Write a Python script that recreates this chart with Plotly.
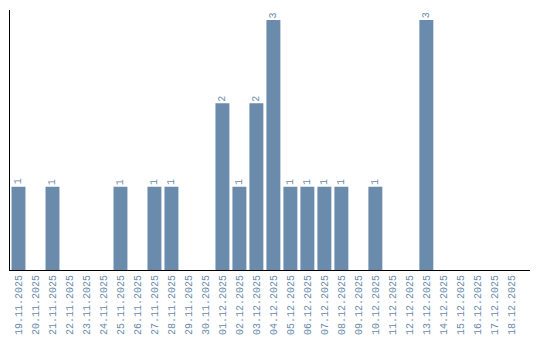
import plotly.graph_objects as go

dates = ["19.11.2025", "20.11.2025", "21.11.2025", "22.11.2025", "23.11.2025", "24.11.2025",
         "25.11.2025", "26.11.2025", "27.11.2025", "28.11.2025", "29.11.2025", "30.11.2025",
         "01.12.2025", "02.12.2025", "03.12.2025", "04.12.2025", "05.12.2025", "06.12.2025",
         "07.12.2025", "08.12.2025", "09.12.2025", "10.12.2025", "11.12.2025", "12.12.2025",
         "13.12.2025", "14.12.2025", "15.12.2025", "16.12.2025", "17.12.2025", "18.12.2025"]
counts = [1, 0, 1, 0, 0, 0, 1, 0, 1, 1, 0, 0, 2, 1, 2, 3, 1, 1, 1, 1, 0, 1, 0, 0, 3, 0, 0, 0, 0, 0]

color = "#6a8bab"
font = "Liberation Mono"

fig = go.Figure(go.Bar(
    x=dates, y=counts,
    marker=dict(color=color, line=dict(width=0)),
))

for d, v in zip(dates, counts):
    if v > 0:
        fig.add_annotation(x=d, y=v, text=str(v), textangle=-90, showarrow=False,
                           xanchor="center", yanchor="bottom", yshift=0,
                           font=dict(family=font, size=10, color=color))

fig.update_layout(
    width=540, height=340, margin=dict(l=10, r=10, t=10, b=70, autoexpand=False),
    paper_bgcolor="white", plot_bgcolor="white", showlegend=False,
    bargap=0.18,
    xaxis=dict(type="category", range=[-0.5, 30.1], showline=True, linecolor="black", linewidth=1,
               ticks="", tickangle=-90, showgrid=False, automargin=False,
               tickfont=dict(family=font, size=10, color=color)),
    yaxis=dict(range=[0, 3.12], showline=True, linecolor="black", linewidth=1, automargin=False,
               showticklabels=False, ticks="", showgrid=False, zeroline=False),
)

fig.write_html("out.html")
